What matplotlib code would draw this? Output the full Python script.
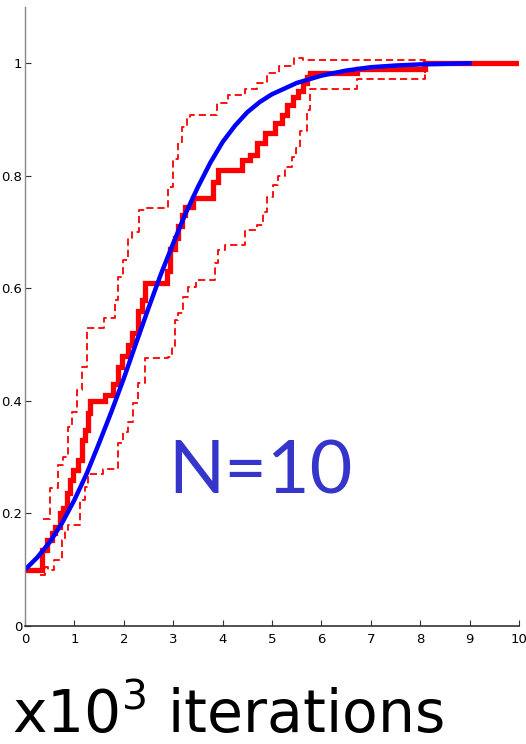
import matplotlib
matplotlib.use("Agg")
import matplotlib.pyplot as plt

# Empirical CDF (thick red step line)
emp_x = [0, 0.30, 0.34, 0.44, 0.55, 0.61, 0.71, 0.77, 0.85, 0.91, 0.97, 1.07, 1.15, 1.21, 1.27, 1.31,
         1.62, 1.78, 1.88, 1.96, 2.08, 2.16, 2.28, 2.36, 2.43, 2.87, 2.93, 3.03, 3.10, 3.17, 3.24, 3.40,
         3.80, 3.90, 4.08, 4.39, 4.55, 4.69, 4.85, 5.06, 5.20, 5.30, 5.42, 5.52, 5.62, 5.70, 5.76,
         6.73, 8.09, 10.0]
emp_y = [0.10, 0.10, 0.135, 0.153, 0.165, 0.176, 0.20, 0.21, 0.236, 0.26, 0.277, 0.295, 0.33, 0.348, 0.378, 0.40,
         0.41, 0.43, 0.46, 0.48, 0.50, 0.52, 0.56, 0.58, 0.61, 0.63, 0.67, 0.69, 0.71, 0.73, 0.745, 0.76,
         0.789, 0.81, 0.81, 0.828, 0.837, 0.858, 0.876, 0.893, 0.908, 0.925, 0.94, 0.95, 0.965, 0.975, 0.982,
         0.989, 1.0, 1.0]

# Upper confidence bound (dashed)
up_x = [0.36, 0.50, 0.67, 0.77, 0.88, 0.95, 1.05, 1.15, 1.25, 1.31, 1.60, 1.82, 1.88, 1.98, 2.08, 2.16,
        2.30, 2.43, 2.90, 3.00, 3.10, 3.17, 3.27, 3.33, 3.88, 4.10, 4.45, 4.70, 4.90, 5.15, 5.45, 5.62, 8.10]
up_y = [0.19, 0.245, 0.286, 0.30, 0.354, 0.38, 0.42, 0.46, 0.53, 0.53, 0.547, 0.58, 0.62, 0.65, 0.69, 0.70,
        0.74, 0.742, 0.78, 0.83, 0.86, 0.887, 0.902, 0.908, 0.93, 0.943, 0.955, 0.965, 0.982, 0.996, 1.01, 1.005, 0.972]

# Lower confidence bound (dashed)
lo_x = [0.30, 0.40, 0.47, 0.58, 0.75, 0.81, 0.87, 0.95, 1.11, 1.21, 1.28, 1.58, 1.88, 1.98, 2.08, 2.18,
        2.28, 2.43, 2.90, 2.97, 3.03, 3.10, 3.20, 3.30, 3.47, 3.84, 3.90, 4.04, 4.45, 4.70, 4.81, 4.89,
        5.02, 5.12, 5.26, 5.40, 5.48, 5.56, 5.70, 5.76, 6.73, 8.10]
lo_y = [0.09, 0.105, 0.10, 0.117, 0.153, 0.17, 0.18, 0.18, 0.224, 0.247, 0.27, 0.279, 0.325, 0.345, 0.362, 0.396,
        0.432, 0.476, 0.478, 0.496, 0.543, 0.556, 0.585, 0.602, 0.615, 0.645, 0.668, 0.677, 0.703, 0.712, 0.735, 0.762,
        0.783, 0.80, 0.815, 0.833, 0.85, 0.88, 0.917, 0.955, 0.972, 1.005]

# Theoretical CDF (blue)
th_x = [0, 0.25, 0.5, 0.75, 1.0, 1.25, 1.5, 1.75, 2.0, 2.25, 2.5, 2.75, 3.0, 3.25, 3.5, 3.75, 4.0,
        4.25, 4.5, 4.75, 5.0, 5.5, 6.0, 6.5, 7.0, 7.5, 8.0, 9.0]
th_y = [0.10, 0.122, 0.149, 0.183, 0.224, 0.271, 0.325, 0.381, 0.44, 0.503, 0.565, 0.625, 0.68, 0.733, 0.78, 0.823, 0.86,
        0.889, 0.913, 0.931, 0.945, 0.965, 0.978, 0.987, 0.993, 0.996, 0.998, 1.0]

xticks = list(range(0, 11))
yticks = [0, 0.2, 0.4, 0.6, 0.8, 1]
ytick_labels = ["0", "0.2", "0.4", "0.6", "0.8", "1"]

plt.rcParams["mathtext.default"] = "regular"

fig = plt.figure(figsize=(5.26, 7.44), dpi=100)
ax = fig.add_axes([25 / 526, 118 / 744, 494 / 526, 619 / 744])

ax.step(up_x, up_y, where="post", color="red", lw=1.3, ls=(0, (4, 2.2)))
ax.step(lo_x, lo_y, where="post", color="red", lw=1.3, ls=(0, (4, 2.2)))
ax.step(emp_x, emp_y, where="post", color="red", lw=3.8, solid_joinstyle="miter")
ax.plot(th_x, th_y, color="#0000ff", lw=3.2)

ax.set_xlim(0, 10)
ax.set_ylim(0, 1.1)
ax.set_xticks(xticks)
ax.set_yticks(yticks)
ax.set_yticklabels(ytick_labels)
for s in ["top", "right"]:
    ax.spines[s].set_visible(False)
ax.spines["left"].set_color("#888888")
ax.spines["bottom"].set_color("#333333")
ax.spines["left"].set_linewidth(1.0)
ax.spines["bottom"].set_linewidth(1.2)
ax.tick_params(direction="in", length=4, width=0.8, colors="#333333")
ax.tick_params(axis="x", pad=5)
ax.tick_params(axis="y", pad=2)
for lab in ax.get_xticklabels() + ax.get_yticklabels():
    lab.set_family(["Liberation Sans Narrow", "DejaVu Sans"])
    lab.set_fontsize(9.5)
    lab.set_color("black")

fig.text(260 / 526, 1 - 493 / 744, "N=10", color="#3535cc", fontsize=53,
         family=["Lato", "DejaVu Sans"], ha="center", va="baseline")

fig.text(12 / 526, 1 - 733 / 744, "x10$^3$ iterations", color="black", fontsize=42,
         family=["DejaVu Sans"], ha="left", va="baseline")

fig.savefig("out.png", dpi=100)
